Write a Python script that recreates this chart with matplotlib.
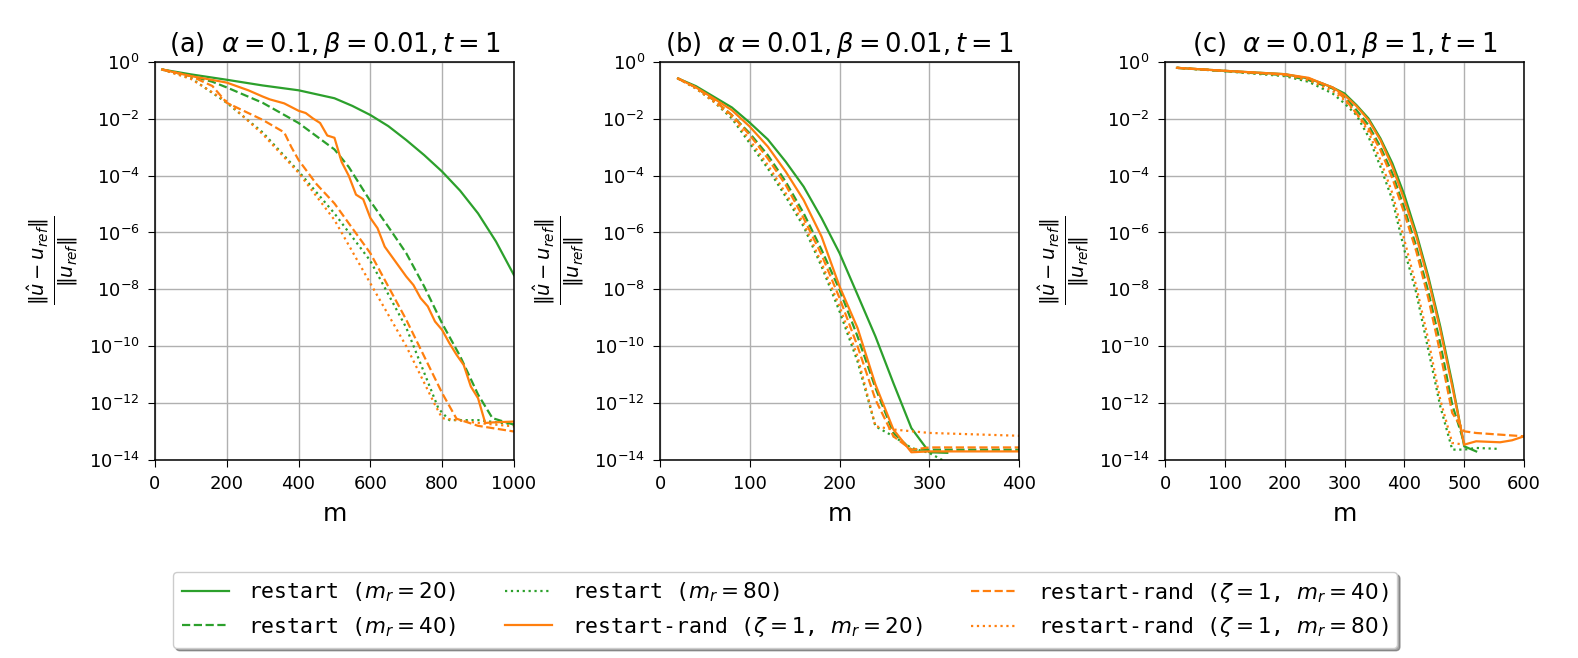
import numpy as np
import matplotlib
matplotlib.use("Agg")
import matplotlib.pyplot as plt

# values are log10 of the relative error

# (a) alpha=0.1, beta=0.01
a_r20_m = [20, 100, 200, 300, 400, 500, 550, 600, 650, 700, 750, 800, 850, 900, 950, 1000]
a_r20_e = [-0.27, -0.44, -0.63, -0.83, -1.0, -1.28, -1.55, -1.87, -2.26, -2.75, -3.28, -3.86, -4.53, -5.33, -6.32, -7.5]
a_r40_m = [20, 100, 160, 200, 300, 400, 500, 540, 600, 650, 700, 750, 800, 850, 900, 940, 1000]
a_r40_e = [-0.27, -0.5, -0.70, -0.9, -1.44, -2.15, -3.08, -3.7, -4.9, -5.8, -6.73, -7.9, -9.2, -10.35, -11.7, -12.53, -12.76]
a_r80_m = [20, 100, 200, 300, 400, 500, 600, 700, 790, 820, 900, 1000]
a_r80_e = [-0.27, -0.57, -1.44, -2.48, -3.85, -5.33, -7.0, -9.35, -12.2, -12.6, -12.6, -12.75]
a_rr20_m = [20, 100, 140, 200, 260, 300, 320, 360, 400, 420, 440, 460, 480, 500, 520, 540, 560,
            580, 600, 620, 640, 660, 680, 700, 720, 740, 760, 780, 800, 820, 840, 860, 880, 900,
            920, 940, 1000]
a_rr20_e = [-0.27, -0.5, -0.59, -0.73, -1.0, -1.22, -1.32, -1.46, -1.72, -1.8, -1.99, -2.15, -2.59,
            -2.67, -3.52, -4.01, -4.67, -4.83, -5.49, -5.85, -6.5, -6.85, -7.2, -7.55, -7.85, -8.31,
            -8.6, -9.13, -9.43, -9.89, -10.3, -10.66, -11.42, -11.83, -12.7, -12.68, -12.65]
a_rr40_m = [20, 100, 160, 200, 300, 360, 380, 400, 450, 500, 600, 700, 800, 840, 900, 1000]
a_rr40_e = [-0.27, -0.5, -0.85, -1.44, -2.04, -2.48, -3.0, -3.45, -4.3, -4.98, -6.73, -9.07, -11.65, -12.55, -12.8, -13.0]
a_rr80_m = [20, 100, 200, 300, 400, 500, 600, 700, 780, 800, 900, 1000]
a_rr80_e = [-0.27, -0.6, -1.39, -2.54, -3.9, -5.56, -7.79, -10.0, -12.06, -12.53, -12.7, -12.82]

# (b) alpha=0.01, beta=0.01
b_r20_m = [20, 40, 60, 80, 100, 120, 140, 160, 180, 200, 220, 240, 260, 280, 300, 320]
b_r20_e = [-0.585, -0.855, -1.229, -1.604, -2.142, -2.727, -3.512, -4.39, -5.50, -6.73, -8.19,
           -9.66, -11.30, -12.88, -13.73, -13.75]
b_r40_m = [20, 40, 60, 80, 100, 120, 140, 160, 180, 200, 220, 240, 260, 280, 300, 400]
b_r40_e = [-0.585, -0.90, -1.346, -1.873, -2.517, -3.278, -4.214, -5.326, -6.614, -8.018,
           -9.657, -11.47, -13.05, -13.64, -13.64, -13.64]
b_r80_m = [20, 40, 60, 80, 100, 120, 140, 160, 180, 200, 220, 240, 260, 280, 300, 320]
b_r80_e = [-0.585, -0.936, -1.405, -1.99, -2.868, -3.746, -4.741, -5.794, -7.199, -8.779,
           -10.535, -12.817, -13.169, -13.578, -13.754, -14.1]
b_rr20_m = [20, 40, 60, 80, 100, 120, 140, 160, 180, 200, 220, 240, 260, 280, 300, 400]
b_rr20_e = [-0.585, -0.90, -1.29, -1.70, -2.28, -2.98, -3.86, -4.86, -6.15, -7.90, -9.36,
            -11.35, -12.93, -13.73, -13.70, -13.70]
b_rr40_m = [20, 40, 60, 80, 100, 120, 140, 160, 180, 200, 220, 240, 260, 280, 300, 400]
b_rr40_e = [-0.585, -0.90, -1.346, -1.873, -2.575, -3.395, -4.33, -5.50, -6.79, -8.31,
            -10.0, -11.88, -13.17, -13.64, -13.56, -13.56]
b_rr80_m = [20, 40, 60, 80, 100, 120, 140, 160, 180, 200, 220, 240, 260, 300, 400]
b_rr80_e = [-0.585, -0.936, -1.405, -1.931, -2.751, -3.629, -4.624, -5.677, -7.082, -8.604,
            -10.36, -12.817, -12.93, -13.05, -13.15]

# (c) alpha=0.01, beta=1
c_r20_m = [20, 100, 200, 240, 260, 280, 300, 320, 340, 360, 380, 400, 420, 440, 460, 480, 500, 520]
c_r20_e = [-0.211, -0.316, -0.433, -0.585, -0.737, -0.901, -1.112, -1.522, -1.99, -2.692,
           -3.57, -4.682, -6.028, -7.55, -9.306, -11.296, -13.52, -13.70]
c_r40_m = [20, 100, 200, 240, 280, 300, 320, 340, 360, 380, 400, 420, 440, 460, 480, 500]
c_r40_e = [-0.211, -0.328, -0.468, -0.644, -0.936, -1.229, -1.697, -2.224, -2.985, -3.921,
           -5.15, -6.497, -8.077, -9.891, -12.057, -13.403]
c_r80_m = [20, 100, 200, 240, 280, 300, 320, 340, 360, 380, 400, 420, 440, 460, 480, 500, 520, 560]
c_r80_e = [-0.211, -0.328, -0.503, -0.702, -1.112, -1.463, -1.873, -2.634, -3.687, -4.858,
           -6.614, -8.135, -10.125, -12.115, -13.637, -13.637, -13.578, -13.613]
c_rr20_m = [20, 100, 200, 240, 260, 280, 300, 320, 340, 360, 380, 400, 420, 440, 460, 480, 500,
            520, 560, 580, 600]
c_rr20_e = [-0.211, -0.316, -0.433, -0.562, -0.737, -0.901, -1.171, -1.557, -2.048, -2.751,
            -3.687, -4.858, -6.145, -7.667, -9.423, -11.413, -13.462, -13.344, -13.379, -13.309, -13.169]
c_rr40_m = [20, 100, 200, 240, 280, 300, 320, 340, 360, 380, 400, 420, 440, 460, 480, 500, 520, 560, 600]
c_rr40_e = [-0.211, -0.316, -0.445, -0.585, -0.901, -1.288, -1.814, -2.341, -3.102, -4.097,
            -5.326, -6.672, -8.311, -10.242, -12.349, -12.993, -13.052, -13.11, -13.169]
c_rr80_m = [20, 100, 200, 240, 280, 300, 320, 340, 360, 380, 400, 420, 440, 460, 480, 500]
c_rr80_e = [-0.211, -0.316, -0.468, -0.644, -1.018, -1.346, -1.814, -2.458, -3.453, -4.624,
            -6.262, -7.901, -9.774, -11.881, -13.403, -13.462]

titles = [r'(a)  $\alpha = 0.1, \beta = 0.01, t = 1$',
          r'(b)  $\alpha = 0.01, \beta = 0.01, t = 1$',
          r'(c)  $\alpha = 0.01, \beta = 1, t = 1$']
xmax = [1000, 400, 600]
xstep = [200, 100, 100]

labels = [r'restart ($m_r = 20$)', r'restart ($m_r = 40$)', r'restart ($m_r = 80$)',
          r'restart-rand ($\zeta = 1$, $m_r = 20$)', r'restart-rand ($\zeta = 1$, $m_r = 40$)',
          r'restart-rand ($\zeta = 1$, $m_r = 80$)']
colors = ['#2ca02c', '#2ca02c', '#2ca02c', '#ff7f0e', '#ff7f0e', '#ff7f0e']
styles = ['-', '--', ':', '-', '--', ':']

panels = [
    [(a_r20_m, a_r20_e), (a_r40_m, a_r40_e), (a_r80_m, a_r80_e),
     (a_rr20_m, a_rr20_e), (a_rr40_m, a_rr40_e), (a_rr80_m, a_rr80_e)],
    [(b_r20_m, b_r20_e), (b_r40_m, b_r40_e), (b_r80_m, b_r80_e),
     (b_rr20_m, b_rr20_e), (b_rr40_m, b_rr40_e), (b_rr80_m, b_rr80_e)],
    [(c_r20_m, c_r20_e), (c_r40_m, c_r40_e), (c_r80_m, c_r80_e),
     (c_rr20_m, c_rr20_e), (c_rr40_m, c_rr40_e), (c_rr80_m, c_rr80_e)],
]

fig = plt.figure(figsize=(15.78, 6.58), dpi=100)
lefts = [0.0982, 0.4183, 0.7383]
handles = []
for k in range(3):
    ax = fig.add_axes([lefts[k], 0.301, 0.2275, 0.605])
    for i, (m, e) in enumerate(panels[k]):
        ln, = ax.plot(m, 10.0 ** np.array(e), color=colors[i], linestyle=styles[i],
                      linewidth=1.6, label=labels[i])
        if k == 0:
            handles.append(ln)
    ax.set_yscale('log')
    ax.set_ylim(1e-14, 1)
    ax.set_xlim(0, xmax[k])
    ax.set_xticks(np.arange(0, xmax[k] + 1, xstep[k]))
    ax.set_yticks([10.0 ** p for p in range(-14, 1, 2)])
    ax.minorticks_off()
    ax.grid(True, color='#b0b0b0', linewidth=1.0)
    ax.tick_params(labelsize=13, length=5, pad=6)
    ax.set_xlabel('m', fontsize=18, labelpad=6)
    ax.set_ylabel(r'$\frac{\|\hat{u} - u_{ref}\|}{\|u_{ref}\|}$', fontsize=20, labelpad=6)
    ax.set_title(titles[k], fontsize=18.5, pad=7)
    for s in ax.spines.values():
        s.set_linewidth(1.1)

fig.legend(handles=handles, loc='center', bbox_to_anchor=(0.4975, 0.073), ncol=3,
           shadow=True, handlelength=2.2, handletextpad=0.9, columnspacing=2.25,
           labelspacing=0.5, prop={'family': 'monospace', 'size': 15.5})

fig.savefig('out.png', dpi=100)
